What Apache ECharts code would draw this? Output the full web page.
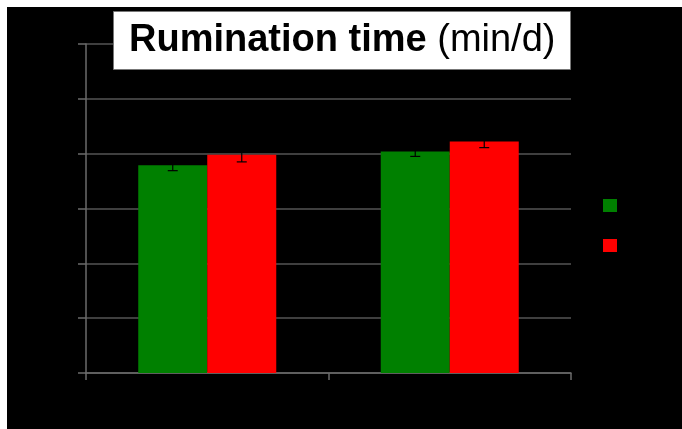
<!DOCTYPE html>
<html>
<head>
<meta charset="utf-8">
<script src="https://cdn.jsdelivr.net/npm/echarts@6/dist/echarts.min.js"></script>
<style>
  html, body { margin: 0; padding: 0; background: #fff; }
  #chart { position: absolute; left: 7px; top: 7px; width: 675px; height: 422px; }
</style>
</head>
<body>
<div id="chart"></div>
<script>
// two groups, no visible category labels
const categories = ["", ""];
// bar heights, axis runs 0..6 with no labels
const greenValues = [3.79, 4.04];
const redValues = [3.98, 4.22];
// error half-widths
const greenErrors = [0.1, 0.09];
const redErrors = [0.13, 0.11];

const chart = echarts.init(document.getElementById("chart"));

const BAR_W = 69;

// error bar drawn as a custom series, shifted onto its bar
const errorSeries = (values, errors, shift) => ({
  type: "custom",
  silent: true,
  z: 5,
  data: values.map((v, i) => [i, v, errors[i]]),
  encode: { x: 0, y: 1 },
  renderItem: (params, api) => {
    const idx = api.value(0);
    const v = api.value(1);
    const e = api.value(2);
    const top = api.coord([idx, v + e]);
    const bot = api.coord([idx, v - e]);
    const x = top[0] + shift;
    const half = 5;
    const style = { stroke: "#000", lineWidth: 1.2 };
    return {
      type: "group",
      children: [
        { type: "line", shape: { x1: x, y1: top[1], x2: x, y2: bot[1] }, style },
        { type: "line", shape: { x1: x - half, y1: top[1], x2: x + half, y2: top[1] }, style },
        { type: "line", shape: { x1: x - half, y1: bot[1], x2: x + half, y2: bot[1] }, style },
      ],
    };
  },
});

const option = {
  backgroundColor: "#000",
  animation: false,
  title: {
    left: 106,
    top: 4,
    text: "{b|Rumination time }{n|(min/d)}",
    backgroundColor: "#fff",
    borderColor: "#777",
    borderWidth: 1,
    padding: [11, 15, 10, 16],
    textStyle: {
      rich: {
        b: { fontFamily: "Liberation Sans", fontSize: 38, fontWeight: "bold", color: "#000", lineHeight: 38 },
        n: { fontFamily: "Liberation Sans", fontSize: 38, fontWeight: "normal", color: "#000", lineHeight: 38 },
      },
    },
  },
  legend: {
    orient: "vertical",
    left: 596,
    top: 192,
    padding: 0,
    itemWidth: 14,
    itemHeight: 13,
    itemGap: 27,
    icon: "rect",
    selectedMode: false,
    formatter: () => "",
    data: ["green", "red"],
  },
  grid: {
    left: 79,
    right: 111,
    top: 37,
    bottom: 56,
  },
  xAxis: {
    type: "category",
    data: categories,
    axisLine: { lineStyle: { color: "#6b6b6b", width: 1.5 } },
    axisTick: { show: true, length: 7, lineStyle: { color: "#6b6b6b", width: 1.5 } },
    axisLabel: { show: false },
  },
  yAxis: {
    type: "value",
    min: 0,
    max: 6,
    interval: 1,
    axisLine: { show: true, lineStyle: { color: "#6b6b6b", width: 1.5 } },
    axisTick: { show: true, length: 8, lineStyle: { color: "#6b6b6b", width: 1.5 } },
    axisLabel: { show: false },
    splitLine: { show: true, lineStyle: { color: "#555", width: 1.5 } },
  },
  series: [
    {
      name: "green",
      type: "bar",
      barWidth: BAR_W,
      barGap: "0%",
      data: greenValues,
      itemStyle: { color: "#008000" },
    },
    {
      name: "red",
      type: "bar",
      barWidth: BAR_W,
      barGap: "0%",
      data: redValues,
      itemStyle: { color: "#ff0000" },
    },
    errorSeries(greenValues, greenErrors, -BAR_W / 2),
    errorSeries(redValues, redErrors, BAR_W / 2),
  ],
};

chart.setOption(option);
window.addEventListener("resize", () => chart.resize());
</script>
</body>
</html>
